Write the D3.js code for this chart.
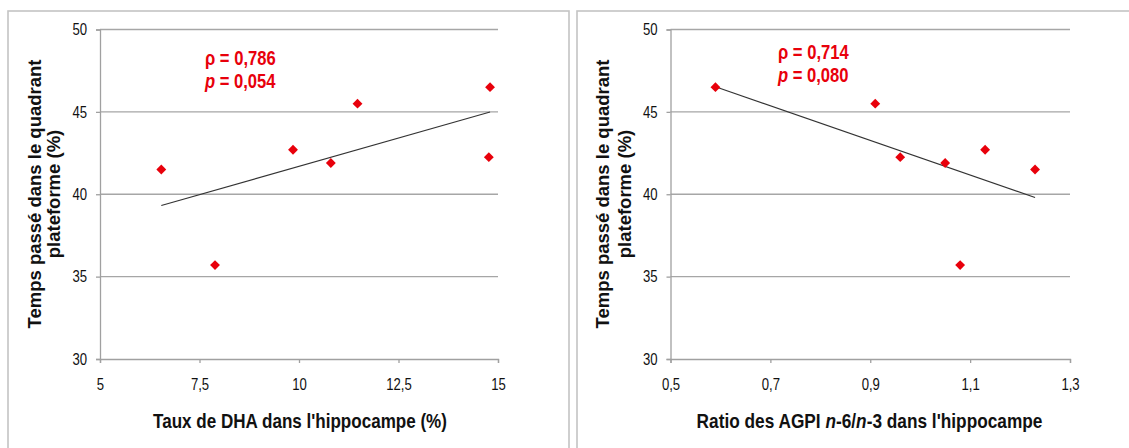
<!DOCTYPE html>
<html><head><meta charset="utf-8">
<script src="https://cdn.jsdelivr.net/npm/d3@7"></script>
<style>
body{margin:0;background:#fff;}
svg{display:block;}
</style></head>
<body>
<svg id="c" width="1129" height="448"></svg>
<script>
// Data
const timeValues = [41.5, 35.7, 42.7, 41.9, 45.5, 46.5, 42.25];
const dhaValues = [6.54, 7.89, 9.85, 10.8, 11.47, 14.8, 14.77];
const ratioValues = [1.23, 1.08, 1.13, 1.05, 0.91, 0.59, 0.96];
const yTicks = [30, 35, 40, 45, 50];
const xTicksLeft = [5, 7.5, 10, 12.5, 15];
const xTicksRight = [0.5, 0.7, 0.9, 1.1, 1.3];
const rhoLeft = "0,786", pLeft = "0,054";
const rhoRight = "0,714", pRight = "0,080";

const svg = d3.select("#c");
const font = "'Liberation Sans',Arial,sans-serif";
const red = "#e8000b";
const fmt = v => String(v).replace(".", ",");

// emulate Arial Narrow by condensing glyphs (single-run texts)
function condense(sel, k) {
  sel.each(function () {
    const w = this.getComputedTextLength();
    d3.select(this).attr("textLength", w * k).attr("lengthAdjust", "spacingAndGlyphs");
  });
}

function regression(xs, ys) {
  const mx = d3.mean(xs), my = d3.mean(ys);
  let sxy = 0, sxx = 0;
  xs.forEach((x, i) => { sxy += (x - mx) * (ys[i] - my); sxx += (x - mx) ** 2; });
  const b = sxy / sxx;
  return x => my + b * (x - mx);
}

function panel(o) {
  svg.append("rect").attr("x", o.bx).attr("y", 11).attr("width", o.bw).attr("height", 460)
    .attr("fill", "none").attr("stroke", "#c4c4c4").attr("stroke-width", 1.6);
  const x = d3.scaleLinear().domain(o.xDomain).range([o.x0, o.x1]);
  const y = d3.scaleLinear().domain([30, 50]).range([359, 29.5]);
  const g = svg.append("g");
  g.selectAll(".grid").data(yTicks.slice(1)).join("line")
    .attr("x1", o.x0).attr("x2", o.x1).attr("y1", d => y(d)).attr("y2", d => y(d))
    .attr("stroke", "#a6a6a6").attr("stroke-width", 1.3);
  const ya = g.append("g").attr("transform", `translate(${o.x0},0)`)
    .call(d3.axisLeft(y).tickValues(yTicks).tickSize(4).tickPadding(9).tickFormat(d => d));
  ya.select(".domain").attr("stroke", "#a0a0a0").attr("stroke-width", 1.3);
  ya.selectAll(".tick line").attr("stroke", "#a0a0a0").attr("stroke-width", 1.3);
  ya.selectAll("text").attr("font-family", font).attr("font-size", 16).attr("fill", "#111");
  condense(ya.selectAll("text"), 0.82);
  const xa = g.append("g").attr("transform", `translate(0,${y(30)})`)
    .call(d3.axisBottom(x).tickValues(o.xTicks).tickSize(4).tickPadding(16).tickFormat(fmt));
  xa.select(".domain").attr("stroke", "#a0a0a0").attr("stroke-width", 1.3);
  xa.selectAll(".tick line").attr("stroke", "#a0a0a0").attr("stroke-width", 1.3);
  xa.selectAll("text").attr("font-family", font).attr("font-size", 16).attr("fill", "#111");
  condense(xa.selectAll("text"), 0.82);
  const f = regression(o.xs, timeValues);
  const ext = d3.extent(o.xs);
  g.append("line").attr("x1", x(ext[0])).attr("y1", y(f(ext[0])))
    .attr("x2", x(ext[1])).attr("y2", y(f(ext[1])))
    .attr("stroke", "#333").attr("stroke-width", 1.1);
  const sym = d3.symbol().type(d3.symbolDiamond2).size(62);
  g.selectAll(".pt").data(o.xs.map((v, i) => [v, timeValues[i]])).join("path")
    .attr("d", sym).attr("transform", d => `translate(${x(d[0])},${y(d[1])})`)
    .attr("fill", red);
  // annotation (condensed with a horizontal scale)
  const ag = g.append("g").attr("transform", `translate(${o.ax},${o.ay}) scale(0.83,1)`);
  ag.append("text").attr("x", 0).attr("y", 0).attr("font-family", font)
    .attr("font-weight", "bold").attr("font-size", 20).attr("fill", red)
    .text("ρ = " + o.rho);
  const a2 = ag.append("text").attr("x", 0).attr("y", 23.5).attr("font-family", font)
    .attr("font-weight", "bold").attr("font-size", 20).attr("fill", red);
  a2.append("tspan").attr("font-style", "italic").text("p");
  a2.append("tspan").text(" = " + o.p);
  // x title
  const xg = g.append("g");
  const xt = xg.append("text").attr("x", 0).attr("y", 0).attr("text-anchor", "middle")
    .attr("font-family", font).attr("font-weight", "bold").attr("font-size", 20).attr("fill", "#111");
  o.xTitle.forEach(t => {
    const s = xt.append("tspan").text(t[0]);
    if (t[1]) s.attr("font-style", "italic");
  });
  const k = o.xtw / xt.node().getComputedTextLength();
  xg.attr("transform", `translate(${o.xtx},428) scale(${k},1)`);
  // y title
  const yt = g.append("text").attr("transform", `translate(${o.ytx},194) rotate(-90)`)
    .attr("text-anchor", "middle").attr("font-family", font).attr("font-weight", "bold")
    .attr("font-size", 18.5).attr("fill", "#111");
  yt.append("tspan").attr("x", 0).attr("y", 0).text("Temps passé dans le quadrant");
  yt.append("tspan").attr("x", 0).attr("y", o.ygap).text("plateforme (%)");
}

panel({bx: 8, bw: 561, x0: 100, x1: 498, xDomain: [5, 15], xTicks: xTicksLeft, xs: dhaValues,
  ax: 205, ay: 65, rho: rhoLeft, p: pLeft, xtx: 300, xtw: 294,
  xTitle: [["Taux de DHA dans l'hippocampe (%)"]], ytx: 41, ygap: 19});
panel({bx: 577, bw: 560, x0: 670.5, x1: 1070, xDomain: [0.5, 1.3], xTicks: xTicksRight, xs: ratioValues,
  ax: 778, ay: 58.5, rho: rhoRight, p: pRight, xtx: 869.5, xtw: 346,
  xTitle: [["Ratio des AGPI "], ["n", 1], ["-6/"], ["n", 1], ["-3 dans l'hippocampe"]], ytx: 609, ygap: 21.5});
</script>
</body></html>
